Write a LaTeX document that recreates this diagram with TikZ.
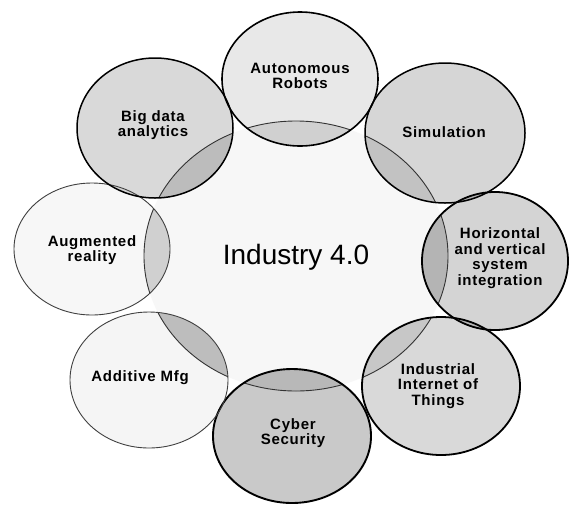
\documentclass[tikz,border=0pt]{standalone}
\usepackage{fontspec}
\setmainfont{Liberation Sans}
\begin{document}
\begin{tikzpicture}[x=1pt,y=-1pt,
  lab/.style={font=\fontsize{15}{15.5}\selectfont\bfseries\addfontfeature{LetterSpace=5}, align=center, text=black, inner sep=0pt},
  mainlab/.style={font=\fontsize{28}{30}\selectfont, text=black, inner sep=0pt}]
\useasboundingbox (0,0) rectangle (569,504);
\fill[white] (0,0) rectangle (569,504);
% central ellipse
\fill[black!3] (296,256) ellipse [x radius=152pt, y radius=135pt];
% base fills of the eight circles
\foreach \x/\y/\rx/\ry/\op in {300/79/78pt/67pt/0.09, 445/133/80pt/70pt/0.16, 495/261/73pt/69pt/0.17, 441/386/79pt/69pt/0.15, 292/436/79pt/67pt/0.21, 149/380/79pt/68pt/0.04, 92/249/78pt/66pt/0.03, 155/128/78pt/70pt/0.15}
  \fill[black, fill opacity=\op] (\x,\y) ellipse [x radius=\rx, y radius=\ry];
% darker parts where circles overlap the central ellipse
\begin{scope}
  \clip (296,256) ellipse [x radius=152pt, y radius=135pt];
  \foreach \x/\y/\rx/\ry/\ex in {300/79/78pt/67pt/0.07, 445/133/80pt/70pt/0.06, 495/261/73pt/69pt/0.12, 441/386/79pt/69pt/0.05, 292/436/79pt/67pt/0.05, 149/380/79pt/68pt/0.20, 92/249/78pt/66pt/0.13, 155/128/78pt/70pt/0.10}
    \fill[black, fill opacity=\ex] (\x,\y) ellipse [x radius=\rx, y radius=\ry];
\end{scope}
% central ellipse boundary, seen only inside the circles
\begin{scope}
  \clip \foreach \x/\y/\rx/\ry in {300/79/78pt/67pt, 445/133/80pt/70pt, 495/261/73pt/69pt, 441/386/79pt/69pt, 292/436/79pt/67pt, 149/380/79pt/68pt, 92/249/78pt/66pt, 155/128/78pt/70pt} { (\x,\y) ellipse [x radius=\rx, y radius=\ry] };
  \draw[black!80, line width=0.9pt] (296,256) ellipse [x radius=152pt, y radius=135pt];
\end{scope}
% outlines
\foreach \x/\y/\rx/\ry/\lw/\c in {300/79/78pt/67pt/1.6pt/black, 445/133/80pt/70pt/1.5pt/black, 495/261/73pt/69pt/1.8pt/black, 441/386/79pt/69pt/1.8pt/black, 292/436/79pt/67pt/1.9pt/black, 149/380/79pt/68pt/0.9pt/black!75, 92/249/78pt/66pt/0.9pt/black!75, 155/128/78pt/70pt/1.5pt/black}
  \draw[\c, line width=\lw] (\x,\y) ellipse [x radius=\rx, y radius=\ry];
% labels
\node[mainlab, anchor=base] (ind) at (296,264) {Industry 4.0};
\node[lab] (rob) at (300,76) {Autonomous\\Robots};
\node[lab] (sim) at (444,132) {Simulation};
\node[lab] (hor) at (500,258) {Horizontal\\and vertical\\system\\integration};
\node[lab] (iot) at (438,386) {Industrial\\Internet of\\Things};
\node[lab] (cyb) at (293,433) {Cyber\\Security};
\node[lab] (add) at (140,378) {Additive Mfg};
\node[lab] (aug) at (92,250) {Augmented\\reality};
\node[lab] (big) at (153,125) {Big data\\analytics};
\end{tikzpicture}
\end{document}
